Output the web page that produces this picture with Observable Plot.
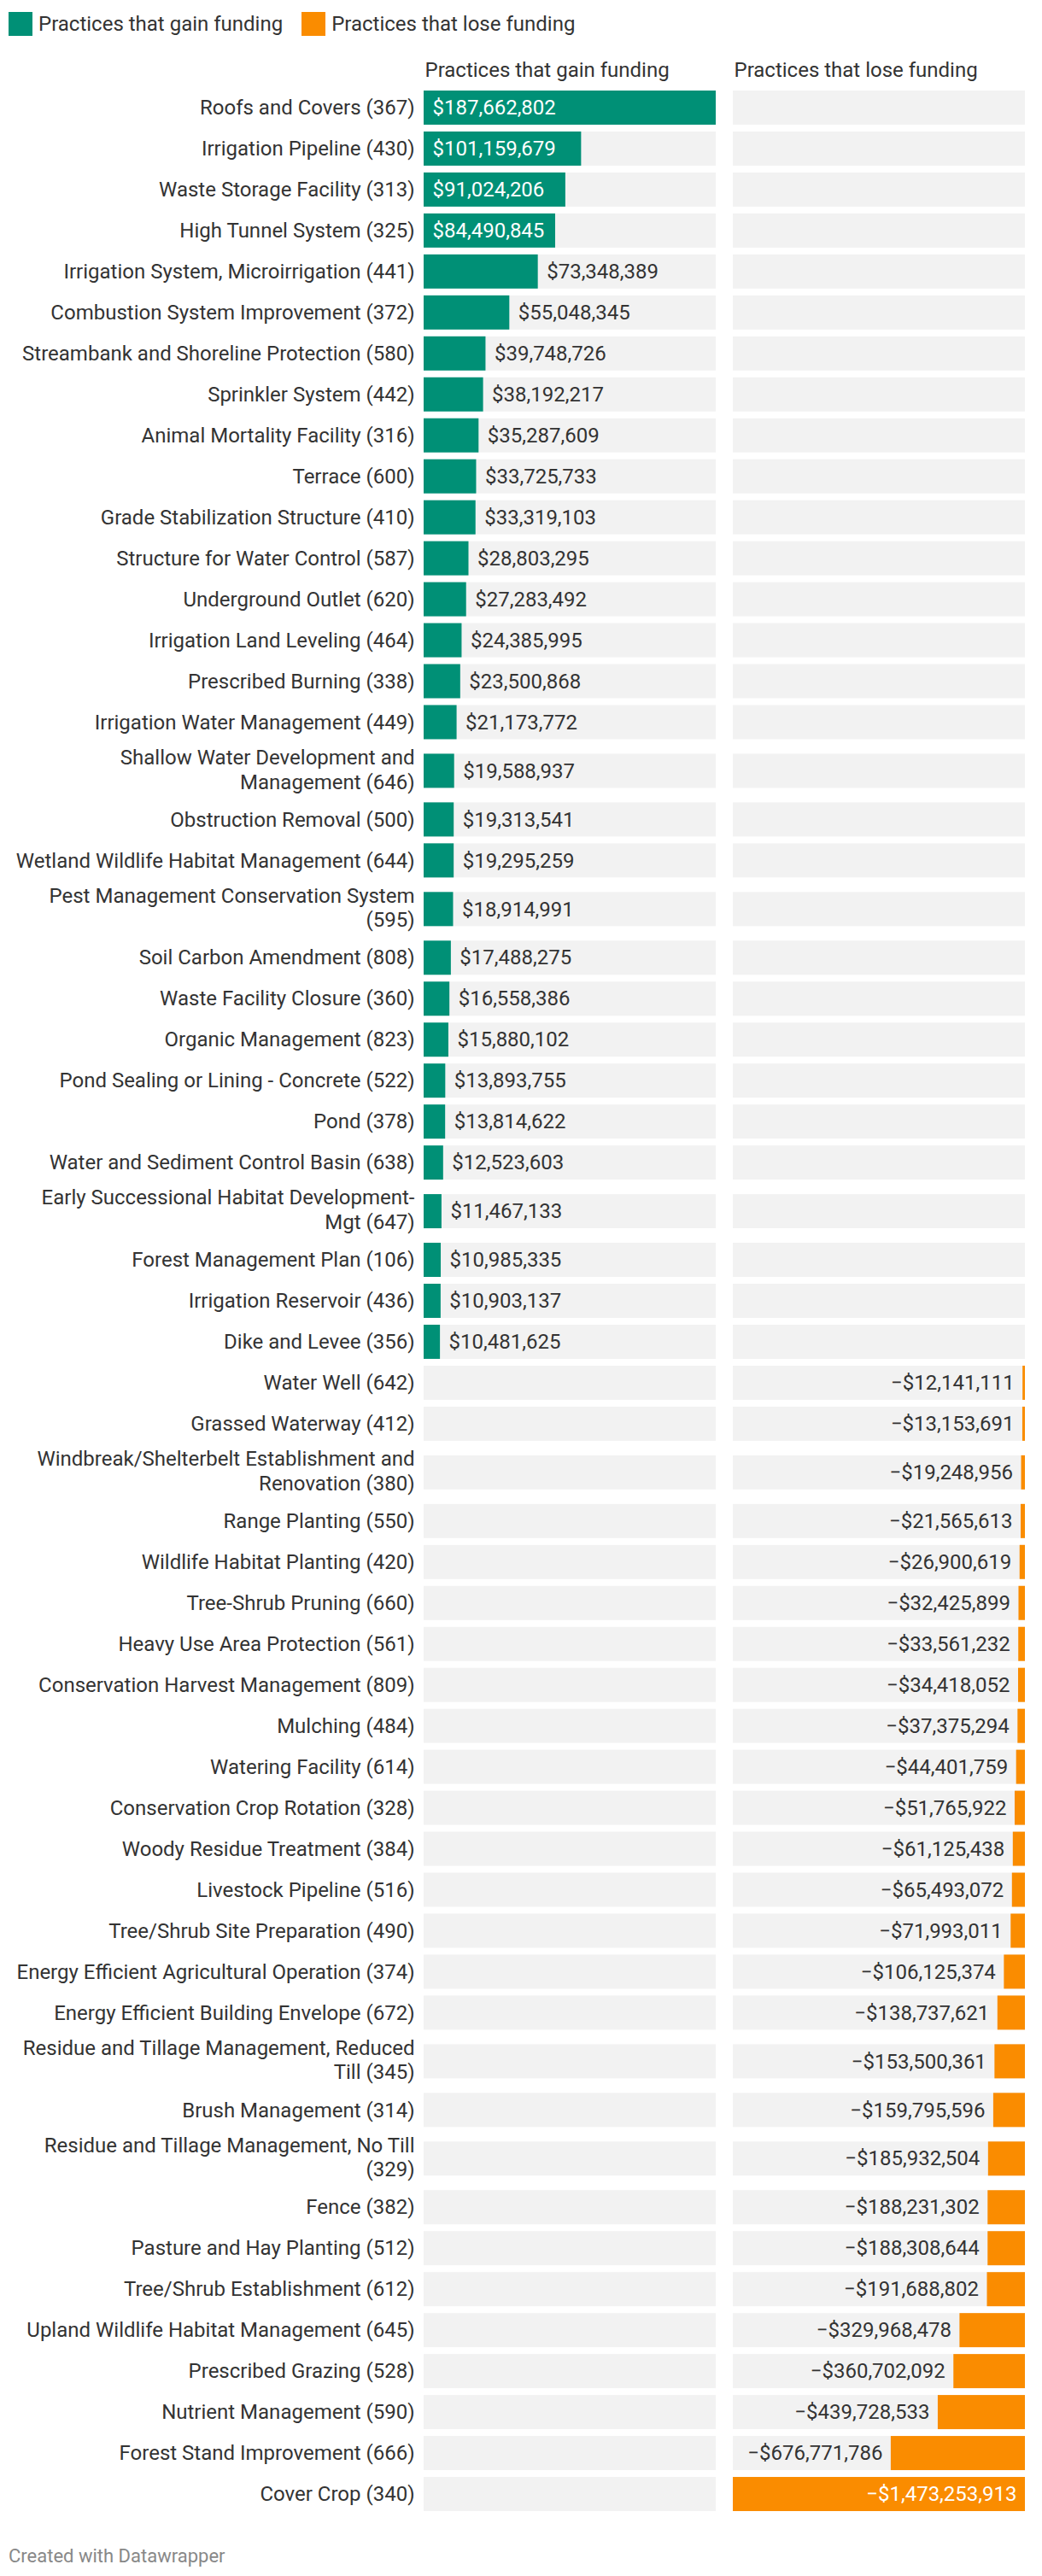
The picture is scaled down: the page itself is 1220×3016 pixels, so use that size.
<!DOCTYPE html>
<html><head><meta charset="utf-8">
<script src="https://cdn.jsdelivr.net/npm/d3@7"></script>
<script src="https://cdn.jsdelivr.net/npm/@observablehq/plot@0.6"></script>
<style>
body{margin:0;background:#fff;font-family:Roboto,sans-serif;color:#333;}
#legend{display:flex;align-items:center;height:28px;padding:14px 0 0 10px;}
.item{display:flex;align-items:center;margin-right:22px;font-size:24px;}
.sw{width:28px;height:28px;margin-right:7px;}
#chart svg{display:block;margin-top:8px;}
#footer{font-size:22px;line-height:26px;color:#888;padding-left:10px;margin-top:20px;}
</style></head><body>
<div id="legend"></div><div id="chart"></div><div id="footer"></div>
<script>
const gainNames = [
  "Roofs and Covers (367)","Irrigation Pipeline (430)","Waste Storage Facility (313)","High Tunnel System (325)",
  "Irrigation System, Microirrigation (441)","Combustion System Improvement (372)","Streambank and Shoreline Protection (580)",
  "Sprinkler System (442)","Animal Mortality Facility (316)","Terrace (600)","Grade Stabilization Structure (410)",
  "Structure for Water Control (587)","Underground Outlet (620)","Irrigation Land Leveling (464)","Prescribed Burning (338)",
  "Irrigation Water Management (449)","Shallow Water Development and\nManagement (646)","Obstruction Removal (500)",
  "Wetland Wildlife Habitat Management (644)","Pest Management Conservation System\n(595)","Soil Carbon Amendment (808)",
  "Waste Facility Closure (360)","Organic Management (823)","Pond Sealing or Lining - Concrete (522)","Pond (378)",
  "Water and Sediment Control Basin (638)","Early Successional Habitat Development-\nMgt (647)","Forest Management Plan (106)",
  "Irrigation Reservoir (436)","Dike and Levee (356)"
];
const gainValues = [
  187662802,101159679,91024206,84490845,73348389,55048345,39748726,38192217,35287609,33725733,33319103,
  28803295,27283492,24385995,23500868,21173772,19588937,19313541,19295259,18914991,17488275,16558386,
  15880102,13893755,13814622,12523603,11467133,10985335,10903137,10481625
];
const loseNames = [
  "Water Well (642)","Grassed Waterway (412)","Windbreak/Shelterbelt Establishment and\nRenovation (380)","Range Planting (550)",
  "Wildlife Habitat Planting (420)","Tree-Shrub Pruning (660)","Heavy Use Area Protection (561)","Conservation Harvest Management (809)",
  "Mulching (484)","Watering Facility (614)","Conservation Crop Rotation (328)","Woody Residue Treatment (384)","Livestock Pipeline (516)",
  "Tree/Shrub Site Preparation (490)","Energy Efficient Agricultural Operation (374)","Energy Efficient Building Envelope (672)",
  "Residue and Tillage Management, Reduced\nTill (345)","Brush Management (314)","Residue and Tillage Management, No Till\n(329)",
  "Fence (382)","Pasture and Hay Planting (512)","Tree/Shrub Establishment (612)","Upland Wildlife Habitat Management (645)",
  "Prescribed Grazing (528)","Nutrient Management (590)","Forest Stand Improvement (666)","Cover Crop (340)"
];
const loseValues = [
  -12141111,-13153691,-19248956,-21565613,-26900619,-32425899,-33561232,-34418052,-37375294,-44401759,
  -51765922,-61125438,-65493072,-71993011,-106125374,-138737621,-153500361,-159795596,-185932504,
  -188231302,-188308644,-191688802,-329968478,-360702092,-439728533,-676771786,-1473253913
];
const seriesKeys = ["gain","lose"];
const seriesLabels = ["Practices that gain funding","Practices that lose funding"];
const seriesColors = ["#009076","#fa8c00"];
const footerText = "Created with Datawrapper";

// ---- layout constants ----
const PANEL_W = 342, GAP = 20, ML = 496, MR = 20, W = 1220;
const BAR = 40, SLOT1 = 48, SLOT2 = 66;
const TEXT = "#333";
const colorOf = Object.fromEntries(seriesKeys.map((k,i)=>[k,seriesColors[i]]));

// legend
const lg = document.getElementById("legend");
seriesKeys.forEach((k,i)=>{
  const it = document.createElement("div"); it.className="item";
  const sw = document.createElement("div"); sw.className="sw"; sw.style.background=seriesColors[i];
  const tx = document.createElement("span"); tx.textContent = seriesLabels[i];
  it.appendChild(sw); it.appendChild(tx); lg.appendChild(it);
});
document.getElementById("footer").textContent = footerText;

const ctx = document.createElement("canvas").getContext("2d");
ctx.font = "24px Roboto";
const fmt = v => (v < 0 ? "\u2212" : "") + "$" + d3.format(",")(Math.abs(v));

const rows = [];
let cursor = 0;
function addRows(names, values, side) {
  const mx = d3.max(values, v => Math.abs(v));
  names.forEach((n, i) => {
    const v = values[i];
    const lines = n.split("\n").length;
    const h = lines > 1 ? SLOT2 : SLOT1;
    const y1 = cursor + (h - BAR) / 2;
    cursor += h;
    const frac = Math.abs(v) / mx;
    const label = fmt(v);
    const inside = ctx.measureText(label).width + 10 < frac * PANEL_W;
    const gain = side === "gain";
    rows.push({
      name: n, value: v, side, lines, y1, y2: y1 + BAR, ym: y1 + BAR / 2,
      bx1: gain ? 0 : 1 - frac, bx2: gain ? frac : 1,
      label, inside,
      lx: inside ? (gain ? 0 : 1) : (gain ? frac : 1 - frac)
    });
  });
}
addRows(gainNames, gainValues, "gain");
addRows(loseNames, loseValues, "lose");
const total = cursor;

const bg = rows.flatMap(r => seriesKeys.map(k => ({y1: r.y1, y2: r.y2, panel: k})));
const headers = seriesKeys.map((k, i) => ({side: k, label: seriesLabels[i]}));

const svgTop = 50, plotTop = 106, plotBottom = 2940;
const marginTop = plotTop - svgTop, marginBottom = 20;
const height = plotBottom - svgTop + marginBottom;

const chart = Plot.plot({
  width: W, height,
  marginLeft: ML, marginRight: MR, marginTop, marginBottom,
  style: {fontFamily: "Roboto, sans-serif", fontSize: "24px", color: TEXT, background: "white"},
  fx: {domain: seriesKeys, paddingInner: GAP / (PANEL_W + GAP), paddingOuter: 0, round: false, axis: null},
  x: {domain: [0, 1], axis: null},
  y: {domain: [(SLOT1 - BAR) / 2, total - (SLOT1 - BAR) / 2], reverse: true, axis: null},
  marks: [
    Plot.rect(bg, {x1: 0, x2: 1, y1: "y1", y2: "y2", fx: "panel", fill: "#f2f2f2"}),
    Plot.rect(rows, {x1: "bx1", x2: "bx2", y1: "y1", y2: "y2", fx: "side", fill: d => colorOf[d.side]}),
    Plot.text(rows.filter(d => d.side === "gain"), {x: "lx", y: "ym", fx: "side", text: "label", textAnchor: "start", dx: 10,
      fontSize: 24, fill: d => d.inside ? "white" : TEXT}),
    Plot.text(rows.filter(d => d.side === "lose"), {x: "lx", y: "ym", fx: "side", text: "label", textAnchor: "end", dx: -10,
      fontSize: 24, fill: d => d.inside ? "white" : TEXT}),
    Plot.text(rows.filter(d => d.lines === 1), {x: 0, y: "ym", fx: () => "gain", text: "name", textAnchor: "end", dx: -11,
      fontSize: 24, fill: TEXT}),
    Plot.text(rows.filter(d => d.lines > 1), {x: 0, y: "ym", fx: () => "gain", text: "name", textAnchor: "end", dx: -11, dy: -3,
      lineHeight: 1.2, fontSize: 24, fill: TEXT}),
    Plot.text(headers, {fx: "side", frameAnchor: "top-left", text: "label", textAnchor: "start", lineAnchor: "bottom",
      dx: 1, dy: -17, fontSize: 24, fill: TEXT})
  ]
});
document.getElementById("chart").appendChild(chart);
</script>
</body></html>
